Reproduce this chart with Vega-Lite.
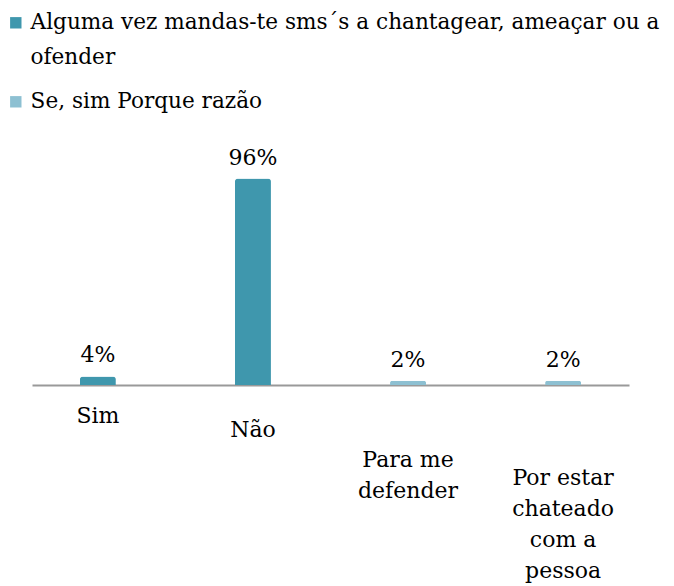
{
  "$schema": "https://vega.github.io/schema/vega-lite/v6.json",
  "width": 597,
  "height": 215,
  "autosize": {"type": "none"},
  "padding": {"left": 32, "top": 170, "right": 45, "bottom": 201},
  "background": "white",
  "data": {
    "values": [
      {"categoria": "Sim", "serie": "Alguma vez mandas-te sms´s a chantagear, ameaçar ou a ofender", "valor": 4, "rotulo": "4%"},
      {"categoria": "Não", "serie": "Alguma vez mandas-te sms´s a chantagear, ameaçar ou a ofender", "valor": 96, "rotulo": "96%"},
      {"categoria": "Para me defender", "serie": "Se, sim Porque razão", "valor": 2, "rotulo": "2%"},
      {"categoria": "Por estar chateado com a pessoa", "serie": "Se, sim Porque razão", "valor": 2, "rotulo": "2%"}
    ]
  },
  "encoding": {
    "x": {
      "field": "categoria",
      "type": "nominal",
      "sort": null,
      "scale": {"paddingInner": 0.75, "paddingOuter": 0.3},
      "axis": {
        "title": null,
        "labelAngle": 0,
        "ticks": false,
        "domain": true,
        "domainColor": "#999999",
        "domainWidth": 2,
        "labelFont": "DejaVu Serif",
        "labelFontSize": 22,
        "labelColor": "#000000",
        "labelPadding": {"condition": [
          {"test": "datum.label == 'Não'", "value": 34},
          {"test": "datum.label == 'Para me defender'", "value": 64},
          {"test": "datum.label == 'Por estar chateado com a pessoa'", "value": 82}
        ], "value": 20},
        "labelLimit": 300,
        "labelLineHeight": 31,
        "labelExpr": "datum.label == 'Para me defender' ? ['Para me', 'defender'] : datum.label == 'Por estar chateado com a pessoa' ? ['Por estar', 'chateado', 'com a', 'pessoa'] : datum.label"
      }
    },
    "y": {
      "field": "valor",
      "type": "quantitative",
      "scale": {"domain": [0, 100]},
      "axis": null
    }
  },
  "layer": [
    {
      "mark": {"type": "bar", "width": 36, "cornerRadiusTopLeft": 3, "cornerRadiusTopRight": 3},
      "encoding": {
        "color": {
          "field": "serie",
          "type": "nominal",
          "scale": {
            "domain": ["Alguma vez mandas-te sms´s a chantagear, ameaçar ou a ofender", "Se, sim Porque razão"],
            "range": ["#3F97AD", "#8DC0D2"]
          },
          "legend": {
            "title": null,
            "orient": "none",
            "legendX": -27,
            "legendY": -158,
            "direction": "vertical",
            "symbolType": "square",
            "symbolSize": 130,
            "symbolStrokeWidth": 0,
            "labelFont": "DejaVu Serif",
            "labelFontSize": 21.6,
            "labelColor": "#000000",
            "labelLimit": 700,
            "labelOffset": 4,
            "rowPadding": 21,
            "labelExpr": "datum.label == 'Se, sim Porque razão' ? datum.label : ['Alguma vez mandas-te sms´s a chantagear, ameaçar ou a', 'ofender']"
          }
        }
      }
    },
    {
      "mark": {"type": "text", "dy": -21, "font": "DejaVu Serif", "fontSize": 22, "color": "#000000"},
      "encoding": {"text": {"field": "rotulo"}}
    }
  ],
  "config": {
    "view": {"stroke": null},
    "style": {"guide-label": {"lineHeight": 35}}
  }
}
